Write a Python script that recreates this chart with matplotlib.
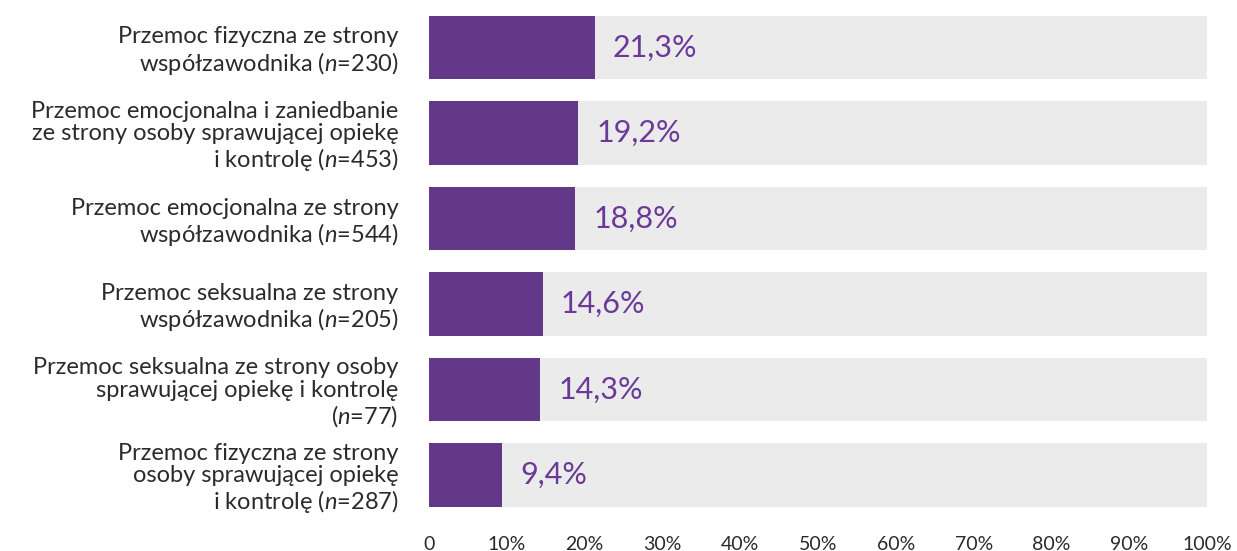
import numpy as np
import matplotlib
matplotlib.use('Agg')
import matplotlib.pyplot as plt

plt.rcParams['font.family'] = ['Lato', 'DejaVu Sans']
plt.rcParams['mathtext.fontset'] = 'custom'
plt.rcParams['mathtext.it'] = 'Lato:italic'
plt.rcParams['mathtext.rm'] = 'Lato'

labels = [
    'Przemoc fizyczna ze strony\nwspółzawodnika ($n$=230)',
    'Przemoc emocjonalna i zaniedbanie\nze strony osoby sprawującej opiekę\ni kontrolę ($n$=453)',
    'Przemoc emocjonalna ze strony\nwspółzawodnika ($n$=544)',
    'Przemoc seksualna ze strony\nwspółzawodnika ($n$=205)',
    'Przemoc seksualna ze strony osoby\nsprawującej opiekę i kontrolę\n($n$=77)',
    'Przemoc fizyczna ze strony\nosoby sprawującej opiekę\ni kontrolę ($n$=287)',
]
values = [21.3, 19.2, 18.8, 14.6, 14.3, 9.4]
xticks = [0, 10, 20, 30, 40, 50, 60, 70, 80, 90, 100]
xticklabels = ['0'] + [f'{t}%' for t in xticks[1:]]

purple = '#643889'
grey = '#EBEBEB'
text_col = '#2b2b2b'

fig = plt.figure(figsize=(12.37, 5.51), dpi=100)
ax = fig.add_axes([0.3468, 0.0603, 0.629, 0.9311])

y = np.arange(len(values))
ax.barh(y, [100]*len(values), height=0.74, color=grey)
ax.barh(y, values, height=0.74, color=purple)
for yi, v in zip(y, values):
    ax.text(v + 2.3, yi, f'{v:.1f}%'.replace('.', ','), va='center', ha='left',
            fontsize=22, color='#6B3A98')

ax.set_xlim(0, 100)
ax.set_ylim(len(values) - 0.5, -0.5)
ax.set_yticks(y)
ax.set_yticklabels(labels, fontsize=17, color=text_col, linespacing=1.1)
ax.set_xticks(xticks)
ax.set_xticklabels(xticklabels, fontsize=14, color=text_col)
ax.tick_params(axis='y', length=0, pad=22)
ax.tick_params(axis='x', length=0, pad=13)
for s in ax.spines.values():
    s.set_visible(False)

fig.savefig('out.png', dpi=100)
